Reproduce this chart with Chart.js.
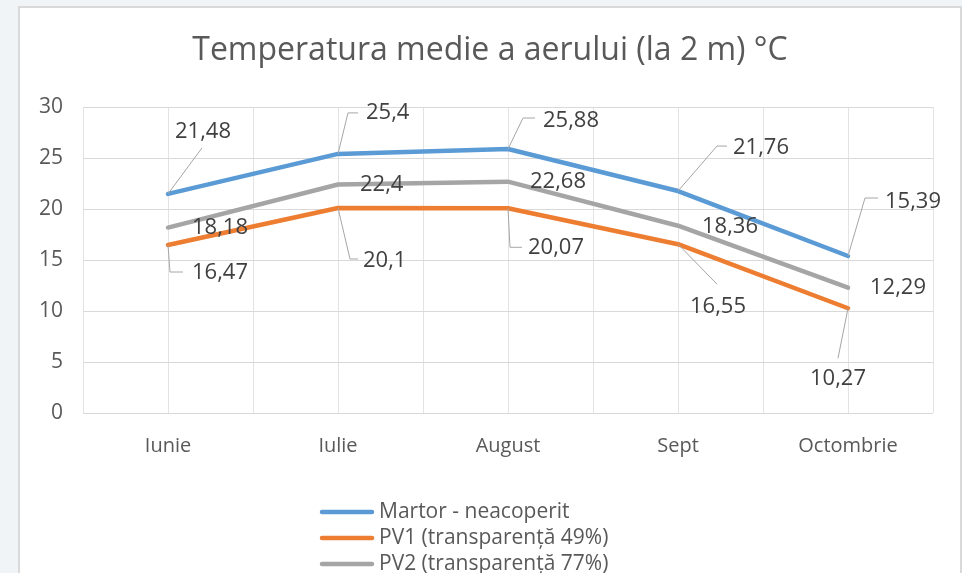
<!DOCTYPE html>
<html lang="ro">
<head>
    <meta charset="UTF-8">
    <title>Temperatura medie a aerului</title>
    <script src="https://cdn.jsdelivr.net/npm/chart.js"></script>
    <style>
        body {
            margin: 0;
            background: #f0f4f7;
        }
        canvas {
            display: block;
        }
    </style>
</head>
<body>
    <canvas id="tempChart" width="962" height="573"></canvas>

    <script>
        // Data
        const months = ['Iunie', 'Iulie', 'August', 'Sept', 'Octombrie'];
        const martor = [21.48, 25.4, 25.88, 21.76, 15.39];
        const pv1 = [16.47, 20.1, 20.07, 16.55, 10.27];
        const pv2 = [18.18, 22.4, 22.68, 18.36, 12.29];
        const seriesNames = ['Martor - neacoperit', 'PV1 (transparență 49%)', 'PV2 (transparență 77%)'];
        const seriesColors = ['#5b9bd5', '#ed7d31', '#a5a5a5'];
        const chartTitle = 'Temperatura medie a aerului (la 2 m) °C';

        // Where each data label sits relative to its point: [dx to text left, dy to text middle, leader points]
        const labelSpots = [
            [[7, -62, [[34, -46]]], [28, -41, [[10, -41], [20, -41]]], [35, -28, [[15, -31], [27, -31]]],
             [55, -43, [[39, -45], [49, -45]]], [37, -54, [[17, -58], [30, -58]]]],
            [[24, 28, [[2, 27], [15, 27]]], [25, 53, [[12, 51], [20, 51]]], [20, 39, [[2, 39], [14, 39]]],
             [12, 63, [[39, 40]]], [-38, 70, [[-10, 50]]]],
            [[24, 0, null], [22, 0, null], [22, 0, null], [24, 1, null], [22, 0, null]]
        ];

        const FONT = '"Open Sans", Arial, sans-serif';

        const frame = {
            id: 'frame',
            beforeDraw(chart) {
                const ctx = chart.ctx;
                ctx.save();
                ctx.fillStyle = '#ffffff';
                ctx.fillRect(19, 7, 942, 570);
                ctx.strokeStyle = '#d9d9d9';
                ctx.lineWidth = 2;
                ctx.strokeRect(19, 7, 942, 570);
                // title, centred on the white frame
                ctx.fillStyle = '#595959';
                ctx.font = '32px ' + FONT;
                ctx.textAlign = 'center';
                ctx.textBaseline = 'middle';
                ctx.fillText(chartTitle, 490, 51);
                ctx.restore();
            }
        };

        const dataLabels = {
            id: 'dataLabels',
            afterDatasetsDraw(chart) {
                const ctx = chart.ctx;
                ctx.save();
                ctx.font = '22px ' + FONT;
                ctx.textBaseline = 'middle';
                chart.data.datasets.forEach((ds, i) => {
                    const meta = chart.getDatasetMeta(i);
                    meta.data.forEach((pt, j) => {
                        const spot = labelSpots[i][j];
                        if (spot[2]) {
                            ctx.strokeStyle = '#a6a6a6';
                            ctx.lineWidth = 1;
                            ctx.beginPath();
                            ctx.moveTo(pt.x, pt.y);
                            spot[2].forEach(p => ctx.lineTo(pt.x + p[0], pt.y + p[1]));
                            ctx.stroke();
                        }
                        ctx.fillStyle = '#404040';
                        ctx.fillText(String(ds.data[j]).replace('.', ','), pt.x + spot[0], pt.y + spot[1]);
                    });
                });
                ctx.restore();
            },
            afterDraw(chart) {
                // legend, one entry per row like the original
                const ctx = chart.ctx;
                ctx.save();
                ctx.font = '21px ' + FONT;
                ctx.textBaseline = 'middle';
                ctx.lineCap = 'round';
                chart.data.datasets.forEach((ds, i) => {
                    const y = 512 + i * 26;
                    ctx.strokeStyle = ds.borderColor;
                    ctx.lineWidth = 4.5;
                    ctx.beginPath();
                    ctx.moveTo(322, y);
                    ctx.lineTo(372, y);
                    ctx.stroke();
                    ctx.fillStyle = '#595959';
                    ctx.fillText(ds.label, 379, y);
                });
                ctx.restore();
            }
        };

        new Chart(document.getElementById('tempChart'), {
            type: 'line',
            data: {
                labels: months,
                datasets: [martor, pv1, pv2].map((values, i) => ({
                    label: seriesNames[i],
                    data: values,
                    borderColor: seriesColors[i],
                    backgroundColor: seriesColors[i],
                    borderWidth: 4.5,
                    pointRadius: 0,
                    tension: 0,
                    borderJoinStyle: 'round',
                    borderCapStyle: 'round'
                }))
            },
            options: {
                responsive: false,
                animation: false,
                layout: {
                    padding: { left: 0, right: 29, top: 107, bottom: 0 }
                },
                plugins: {
                    legend: { display: false },
                    tooltip: { enabled: false },
                    title: { display: false }
                },
                scales: {
                    x: {
                        offset: true,
                        grid: { color: '#e3e3e3', offset: false, drawTicks: false },
                        border: { display: false },
                        ticks: {
                            color: '#595959',
                            font: { family: FONT, size: 20 },
                            padding: 21,
                            maxRotation: 0
                        },
                        afterFit(scale) { scale.height = 160; }
                    },
                    x2: {
                        type: 'category',
                        labels: months,
                        position: 'top',
                        offset: true,
                        grid: { color: '#e3e3e3', offset: true, drawTicks: false },
                        border: { display: false },
                        ticks: { display: false },
                        afterFit(scale) { scale.height = 0; }
                    },
                    y: {
                        min: 0,
                        max: 30,
                        grid: { color: '#d9d9d9', drawTicks: false },
                        border: { display: false },
                        ticks: {
                            stepSize: 5,
                            color: '#595959',
                            font: { family: FONT, size: 21 },
                            padding: 20
                        },
                        afterFit(scale) { scale.width = 83; }
                    }
                }
            },
            plugins: [frame, dataLabels]
        });
    </script>
</body>
</html>
